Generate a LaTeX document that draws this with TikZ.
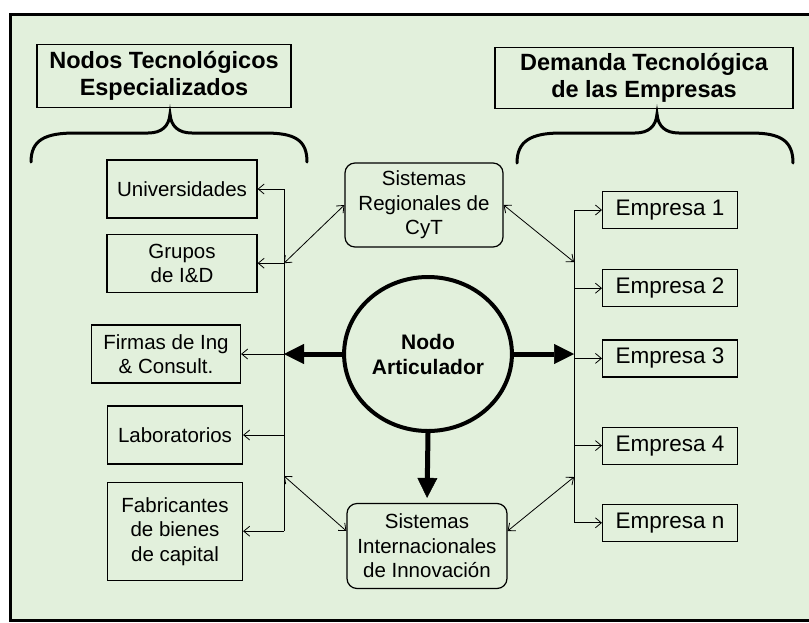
\documentclass[tikz,border=0pt]{standalone}
\usepackage{fontspec}
\setmainfont{Liberation Sans}
\usetikzlibrary{arrows.meta,positioning,shapes.geometric}

\definecolor{paper}{HTML}{E2F0DC}

\tikzset{
  titlebox/.style={draw, line width=1.2pt, align=center, minimum height=63pt,
                   font=\fontsize{23.5}{27}\selectfont\bfseries},
  box/.style={draw, line width=1.2pt, align=center, inner xsep=10pt,
              minimum height=58pt, minimum width=135pt,
              font=\fontsize{20.5}{24.5}\selectfont},
  empbox/.style={draw, line width=1.2pt, inner xsep=13pt, minimum height=37pt,
                 font=\fontsize{22.5}{26}\selectfont},
  sysbox/.style={draw, line width=1.2pt, rounded corners=10pt, align=center,
                 minimum width=158pt, minimum height=84pt,
                 font=\fontsize{20.5}{24.5}\selectfont},
  hub/.style={draw, ellipse, line width=4pt, align=center,
              minimum width=146pt, minimum height=154pt,
              font=\fontsize{21}{25}\selectfont\bfseries},
  link/.style={line width=0.8pt},
  bigarrow/.style={line width=5pt, -{Triangle[length=20pt,width=20pt,line width=0.5pt]}},
  brace/.style={line width=3pt, line cap=round}
}

\begin{document}
\begin{tikzpicture}[x=1pt,y=-1pt,>={Straight Barb[length=6pt,width=10pt]}]
    \useasboundingbox (0,0) rectangle (809,622);
    \clip (0,0) rectangle (809,622);
    \fill[white] (0,0) rectangle (809,622);
    \draw[line width=3pt, fill=paper] (10,14) rectangle (830,620);

    % headings and braces
    \node[titlebox, minimum width=254pt]                     (nodos)   at (164,76) {Nodos Tecnológicos\\Especializados};
    \node[titlebox, minimum width=298pt, minimum height=61pt] (demanda) at (644,78) {Demanda Tecnológica\\de las Empresas};

    \draw[brace] (31,162) .. controls (31,140) and (45,133) .. (75,133) -- (148,133)
                 .. controls (162,133) and (169,126) .. (170,114)
                 .. controls (171,126) and (178,133) .. (192,133) -- (265,133)
                 .. controls (295,133) and (307,140) .. (307,162);
    \draw[brace] (517,163) .. controls (517,141) and (531,133) .. (561,133) -- (635,133)
                 .. controls (649,133) and (656,126) .. (657,114)
                 .. controls (658,126) and (665,133) .. (679,133) -- (751,133)
                 .. controls (781,133) and (793,141) .. (793,163);

    % left column
    \node[box, minimum width=150pt]                    (univ)   at (182,189) {Universidades};
    \node[box, minimum width=150pt, below=15pt of univ] (grupos)            {Grupos\\de I\&D};
    \node[box, minimum width=149pt]                    (firmas) at (166,354) {Firmas de Ing\\\& Consult.};
    \node[box]                                         (lab)    at (175,435) {Laboratorios};
    \node[box, minimum height=98pt, below=17pt of lab]  (fab)                {Fabricantes\\de bienes\\de capital};

    % centre
    \node[sysbox]                                      (sreg)   at (424,205) {Sistemas\\Regionales de\\CyT};
    \node[hub]                                         (nodo)   at (428,354) {Nodo\\Articulador};
    \node[sysbox, minimum width=160pt, minimum height=85pt] (sint) at (427,546) {Sistemas\\Internacionales\\de Innovación};

    % right column
    \node[empbox]                      (emp1) at (670,210) {Empresa 1};
    \node[empbox, below=40pt of emp1]  (emp2)              {Empresa 2};
    \node[empbox, below=32pt of emp2]  (emp3)              {Empresa 3};
    \node[empbox, below=49pt of emp3]  (emp4)              {Empresa 4};
    \node[empbox, below=39pt of emp4]  (empn)              {Empresa n};

    \coordinate (busl) at (284,0);
    \coordinate (busr) at (574,0);
    \coordinate (jl)   at (284,476);
    \coordinate (jr1)  at (574,262);
    \coordinate (jr2)  at (574,477);

    \draw[link] (univ.east -| busl) -- (fab.east -| busl);
    \draw[link] (emp1.west -| busr) -- (empn.west -| busr);

    \path[->,link] (univ.east -| busl)   edge (univ)
                   (grupos.east -| busl) edge (grupos)
                   (firmas.east -| busl) edge (firmas)
                   (lab.east -| busl)    edge (lab)
                   (fab.east -| busl)    edge (fab)
                   (emp1.west -| busr)   edge (emp1)
                   (emp2.west -| busr)   edge (emp2)
                   (emp3.west -| busr)   edge (emp3)
                   (emp4.west -| busr)   edge (emp4)
                   (empn.west -| busr)   edge (empn)
                   ;

    \path[<->,link] (sreg.west)                edge (grupos.east -| busl)
                    (sreg.east)                edge (jr1)
                    ([yshift=15pt]sint.west)   edge (jl)
                    ([yshift=15pt]sint.east)   edge (jr2)
                    ;

    \path[bigarrow] (nodo.west)  edge (nodo.west -| busl)
                    (nodo.east)  edge (nodo.east -| busr)
                    (nodo.south) edge[shorten >=5pt] (sint.north)
                    ;
\end{tikzpicture}
\end{document}
